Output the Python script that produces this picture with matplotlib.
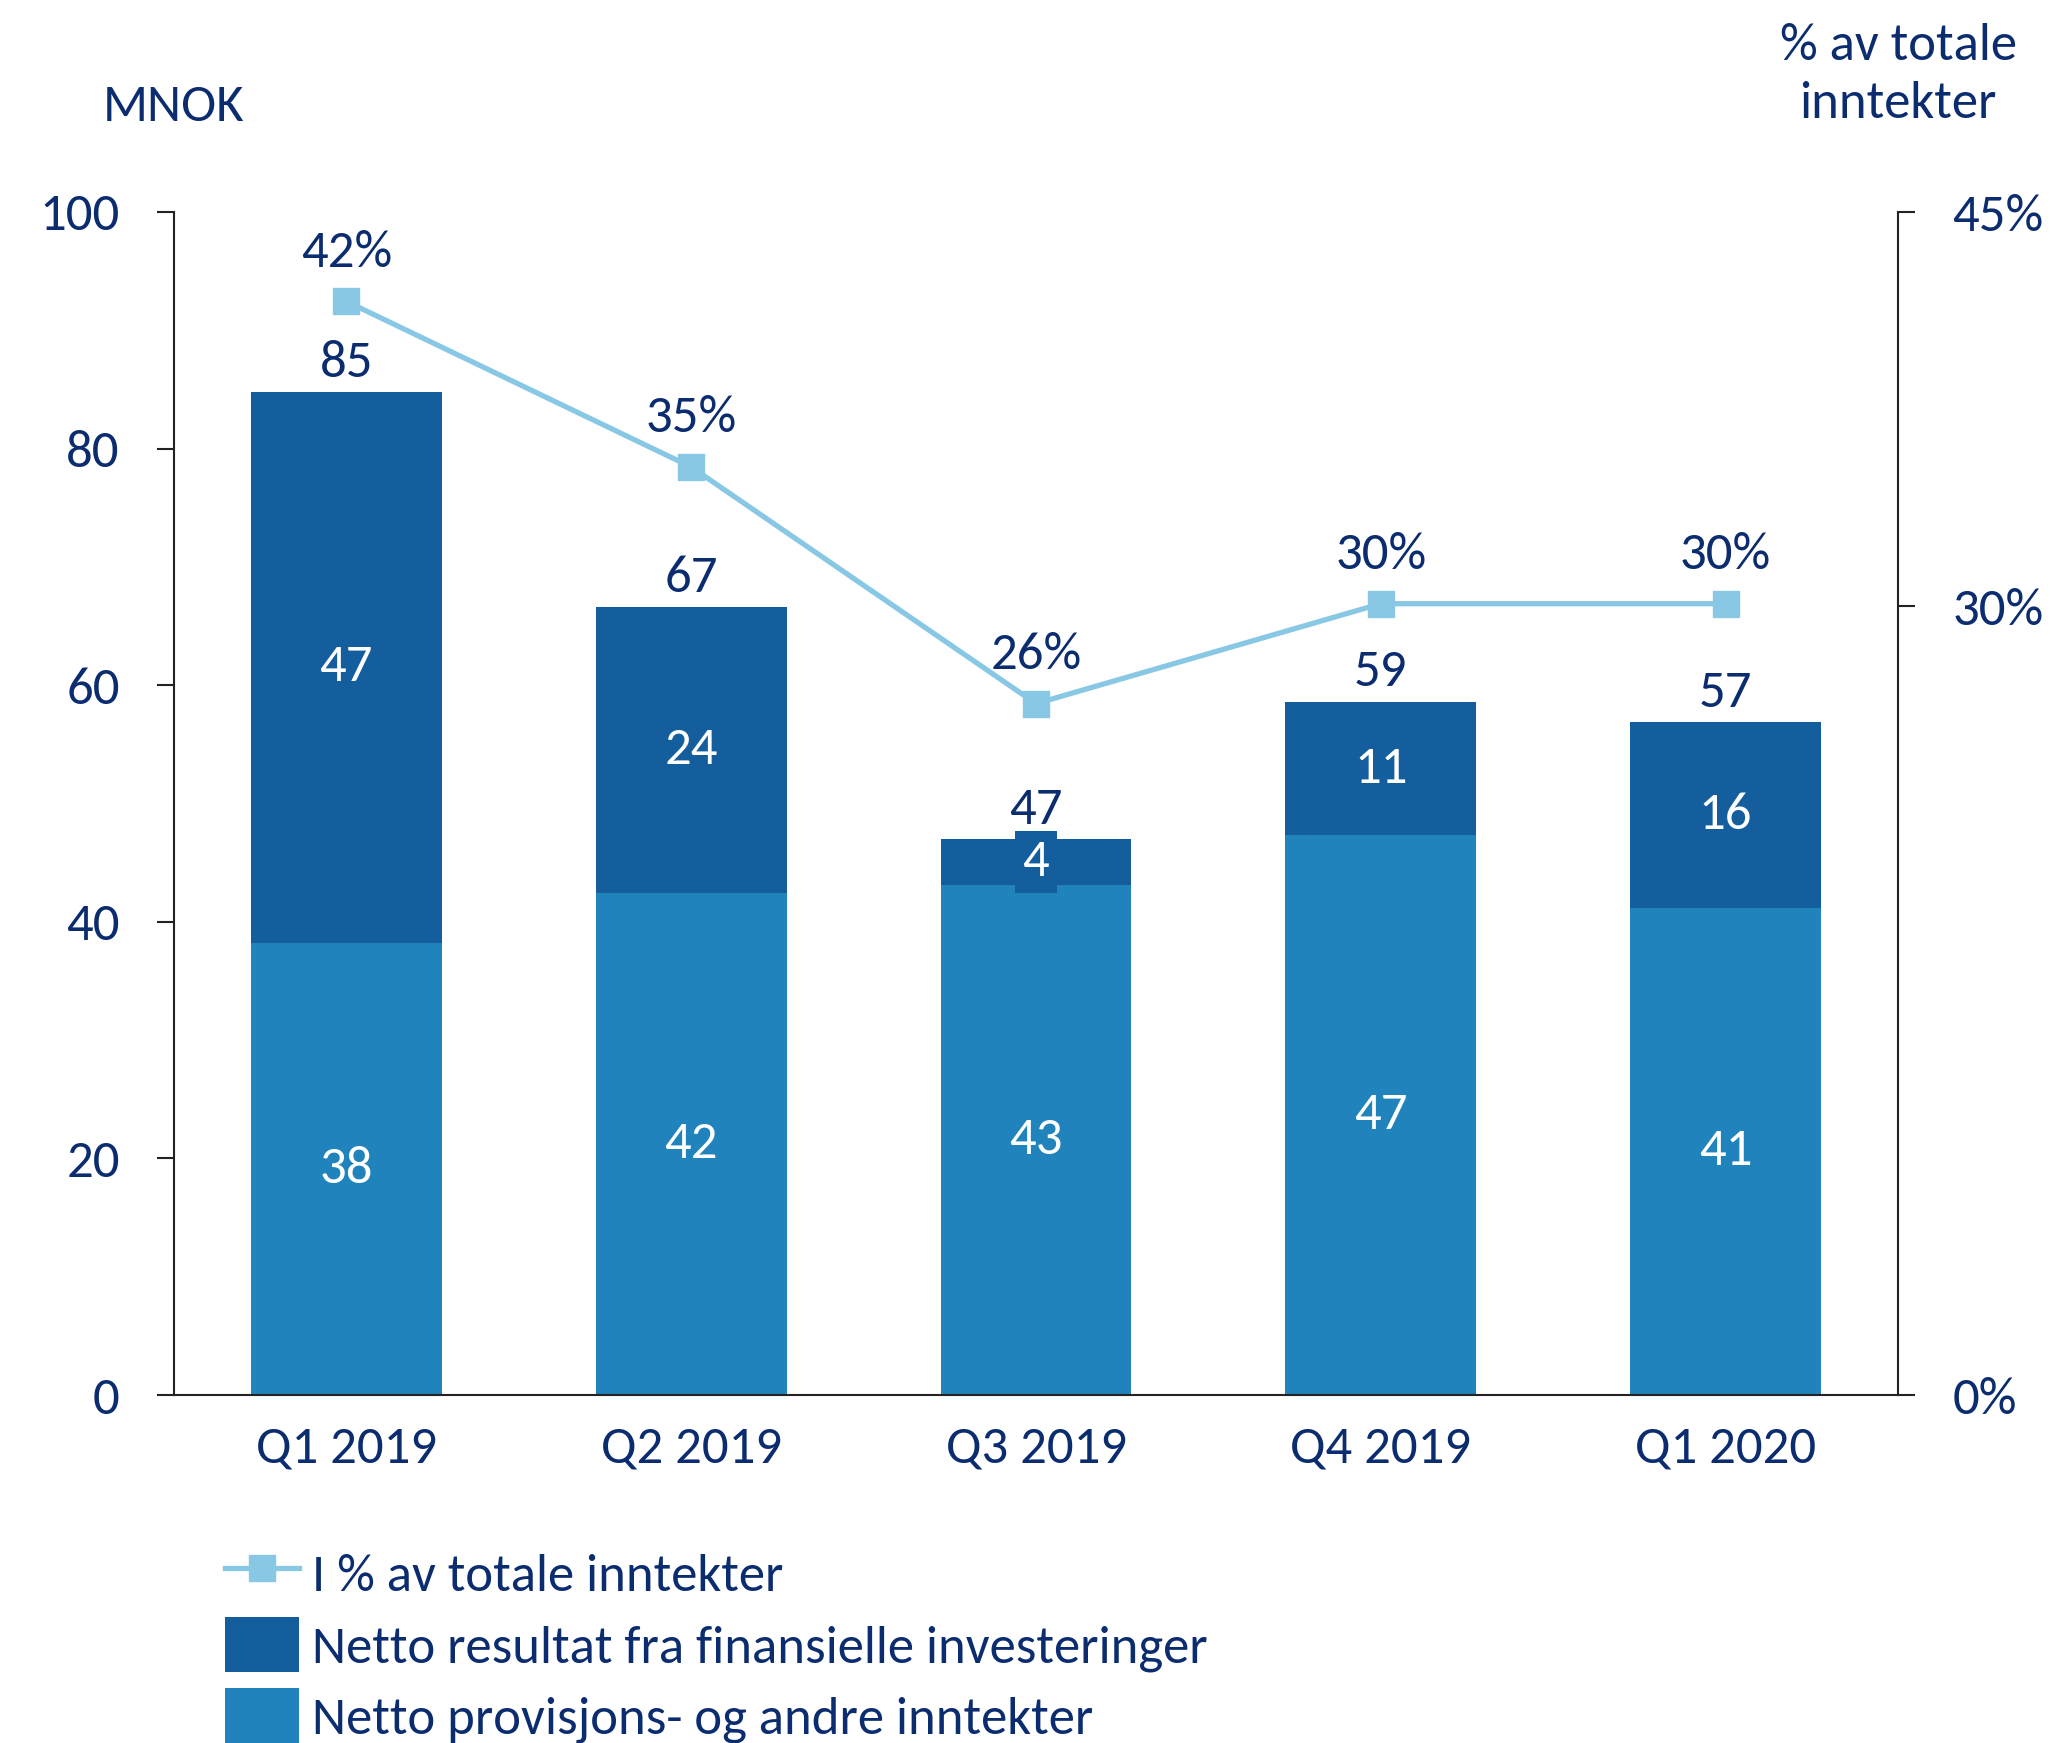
import matplotlib
matplotlib.use("Agg")
import matplotlib.pyplot as plt
from matplotlib.lines import Line2D
from matplotlib.patches import Patch
import numpy as np

plt.rcParams['font.family'] = ['Carlito', 'Lato', 'DejaVu Sans']

categories = ["Q1 2019", "Q2 2019", "Q3 2019", "Q4 2019", "Q1 2020"]
provisjon = [38.2, 42.4, 43.1, 47.3, 41.2]      # Netto provisjons- og andre inntekter
finans = [46.6, 24.2, 3.9, 11.3, 15.7]          # Netto resultat fra finansielle investeringer
andel_pct = [41.6, 35.3, 26.3, 30.1, 30.1]      # I % av totale inntekter
left_ticks = [0, 20, 40, 60, 80, 100]
right_ticks = [0, 30, 45]
right_tick_labels = ["0%", "30%", "45%"]
legend_labels = ["I % av totale inntekter",
                 "Netto resultat fra finansielle investeringer",
                 "Netto provisjons- og andre inntekter"]

NAVY = "#0B2C6F"
DARK = "#155E9E"
LIGHT = "#2083BB"
LINEC = "#89C8E5"
FS = 38

fig = plt.figure(figsize=(20.5, 17.43), dpi=100)
ax = fig.add_axes([174/2050, 1-1395/1743, (1898-174)/2050, (1395-212)/1743])
x = np.arange(len(categories))
w = 0.553

ax.bar(x, provisjon, width=w, color=LIGHT, zorder=2)
ax.bar(x, finans, width=w, bottom=provisjon, color=DARK, zorder=2)

totals = [a + b for a, b in zip(provisjon, finans)]
for i in range(len(x)):
    ax.text(x[i], provisjon[i] / 2, f"{round(provisjon[i])}", ha='center', va='center',
            color='white', fontsize=FS, zorder=3)
    ax.text(x[i], provisjon[i] + finans[i] / 2, f"{round(finans[i])}", ha='center', va='center',
            color='white', fontsize=FS, zorder=3,
            bbox=dict(boxstyle='square,pad=0.15', facecolor=DARK, edgecolor='none'))
    ax.annotate(f"{round(totals[i])}", (x[i], totals[i]), xytext=(0, 11),
                textcoords='offset points', ha='center', va='baseline',
                color=NAVY, fontsize=FS, zorder=3)

ax.set_xlim(-0.5, 4.5)
ax.set_ylim(0, 100)
ax.set_yticks(left_ticks)
ax.set_xticks(x)
ax.set_xticklabels(categories)
ax.tick_params(axis='x', length=0, pad=22, labelsize=FS, labelcolor=NAVY)
ax.tick_params(axis='y', direction='out', length=12, width=1.5, pad=27,
               labelsize=FS, labelcolor=NAVY, color='#222222')
for s in ['top', 'right']:
    ax.spines[s].set_visible(False)
for s in ['left', 'bottom']:
    ax.spines[s].set_linewidth(1.5)
    ax.spines[s].set_color('#222222')

ax2 = ax.twinx()
ax2.plot(x, andel_pct, color=LINEC, lw=3.8, marker='s', markersize=19, zorder=4)
for i in range(len(x)):
    ax2.annotate(f"{round(andel_pct[i])}%", (x[i], andel_pct[i]), xytext=(0, 25),
                 textcoords='offset points', ha='center', va='baseline',
                 color=NAVY, fontsize=FS)
ax2.set_ylim(0, 45)
ax2.set_yticks(right_ticks)
ax2.set_yticklabels(right_tick_labels)
ax2.tick_params(axis='y', direction='out', length=12, width=1.5, pad=27,
                labelsize=FS, labelcolor=NAVY, color='#222222')
for s in ['top', 'left', 'bottom']:
    ax2.spines[s].set_visible(False)
ax2.spines['right'].set_linewidth(1.5)
ax2.spines['right'].set_color('#222222')

fig.text(174/2050, 1-107/1743, "MNOK", ha='center', va='center', color=NAVY, fontsize=FS)
fig.text(1898/2050, 1-75/1743, "% av totale\ninntekter", ha='center', va='center',
         color=NAVY, fontsize=FS, linespacing=1.32)

handles = [Line2D([0], [0], color=LINEC, lw=3.8, marker='s', markersize=19),
           Patch(facecolor=DARK), Patch(facecolor=LIGHT)]
fig.legend(handles, legend_labels, loc='upper left', bbox_to_anchor=(225/2050, 1-1545/1743),
           frameon=False, fontsize=FS, labelcolor=NAVY, handlelength=1.4, handleheight=1.25,
           handletextpad=0.25, labelspacing=0.3, borderpad=0, borderaxespad=0, numpoints=1)

fig.savefig("out.png", dpi=100)
